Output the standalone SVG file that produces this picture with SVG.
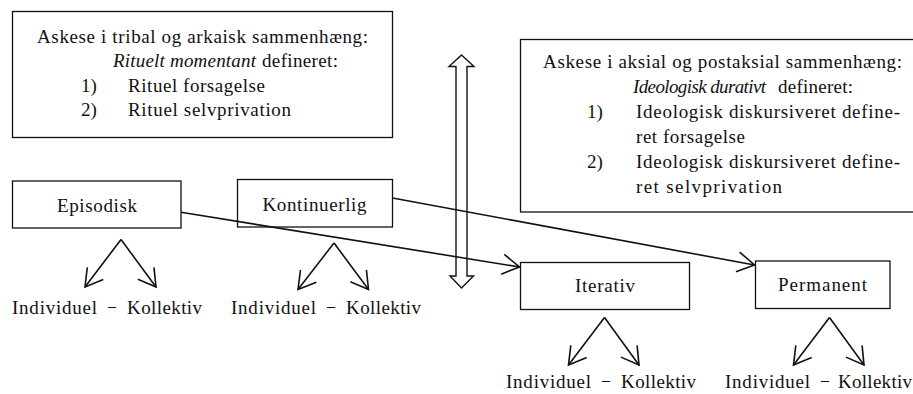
<svg xmlns="http://www.w3.org/2000/svg" width="913" height="394" viewBox="0 0 913 394">
<style>
text{font-family:"Liberation Serif","Times New Roman",serif;font-size:19px;fill:#111}
.it{font-style:italic}
.box{fill:#fff;stroke:#111;stroke-width:1.3}
.ln{fill:none;stroke:#111;stroke-width:1.6;marker-end:url(#open)}
.dbl{fill:#fff;stroke:#111;stroke-width:1.4;stroke-linejoin:miter}
</style>
<defs>
<marker id="open" markerUnits="userSpaceOnUse" markerWidth="24" markerHeight="24" viewBox="-20 -12 24 24" refX="0" refY="0" orient="auto">
<path d="M-17,-10 L0,0 L-17,10" fill="none" stroke="#111" stroke-width="1.6" stroke-linejoin="miter"/>
</marker>
</defs>
<rect width="913" height="394" fill="#fff"/>

<g id="tribal">
<rect class="box" x="12.5" y="11.5" width="380" height="126"/>
<text x="37" y="43" textLength="331" lengthAdjust="spacing">Askese i tribal og arkaisk sammenhæng:</text>
<text class="it" x="113" y="67" textLength="143" lengthAdjust="spacing">Rituelt momentant</text>
<text x="262" y="67" textLength="76" lengthAdjust="spacing">defineret:</text>
<text x="81" y="91.5">1)</text>
<text x="128" y="91.5" textLength="137" lengthAdjust="spacing">Rituel forsagelse</text>
<text x="81" y="116">2)</text>
<text x="128" y="116" textLength="163" lengthAdjust="spacing">Rituel selvprivation</text>
</g>

<g id="aksial">
<rect class="box" x="520.5" y="39.5" width="400" height="172.5"/>
<text x="543" y="68" textLength="359" lengthAdjust="spacing">Askese i aksial og postaksial sammenhæng:</text>
<text class="it" x="633" y="93" textLength="133" lengthAdjust="spacing">Ideologisk durativt</text>
<text x="778" y="93" textLength="75" lengthAdjust="spacing">defineret:</text>
<text x="587" y="118">1)</text>
<text x="636" y="118" textLength="264" lengthAdjust="spacing">Ideologisk diskursiveret define-</text>
<text x="636" y="143" textLength="109" lengthAdjust="spacing">ret forsagelse</text>
<text x="587" y="168">2)</text>
<text x="636" y="168" textLength="264" lengthAdjust="spacing">Ideologisk diskursiveret define-</text>
<text x="636" y="193" textLength="146" lengthAdjust="spacing">ret selvprivation</text>
</g>

<g id="divider">
<path class="dbl" d="M461.5,55 L474,66.5 L467,66.5 L467,276 L473.5,276 L461.5,288 L450,276 L456,276 L456,66.5 L449,66.5 Z"/>
</g>

<g id="episodisk">
<rect class="box" x="12.5" y="181" width="168.5" height="47"/>
<text x="57" y="211.5" textLength="80" lengthAdjust="spacing">Episodisk</text>
</g>
<g id="kontinuerlig">
<rect class="box" x="237.5" y="179.5" width="155" height="47.5"/>
<text x="262.5" y="210.5" textLength="104" lengthAdjust="spacing">Kontinuerlig</text>
</g>
<g id="iterativ">
<rect class="box" x="520.5" y="262.5" width="169" height="47"/>
<text x="575" y="292" textLength="60" lengthAdjust="spacing">Iterativ</text>
</g>
<g id="permanent">
<rect class="box" x="755.5" y="261" width="134.5" height="47.5"/>
<text x="778" y="291" textLength="89" lengthAdjust="spacing">Permanent</text>
</g>

<g id="connectors">
<line class="ln" x1="181" y1="212.3" x2="519.5" y2="267"/>
<line class="ln" x1="392.5" y1="198" x2="754.5" y2="265"/>
<line class="ln" x1="121" y1="239.5" x2="85" y2="287"/>
<line class="ln" x1="121" y1="239.5" x2="156" y2="287"/>
<line class="ln" x1="334" y1="243" x2="298" y2="289.5"/>
<line class="ln" x1="334" y1="243" x2="368.5" y2="289.5"/>
<line class="ln" x1="604.5" y1="317.5" x2="568.5" y2="365"/>
<line class="ln" x1="604.5" y1="317.5" x2="639" y2="365"/>
<line class="ln" x1="829.5" y1="317.5" x2="793.5" y2="365"/>
<line class="ln" x1="829.5" y1="317.5" x2="864" y2="365"/>
</g>

<g id="labels">
<text x="12" y="313.5" textLength="85" lengthAdjust="spacing">Individuel</text>
<text x="107" y="313.5" textLength="10" lengthAdjust="spacingAndGlyphs">−</text>
<text x="127" y="313.5" textLength="75" lengthAdjust="spacing">Kollektiv</text>

<text x="231" y="313.5" textLength="85" lengthAdjust="spacing">Individuel</text>
<text x="326" y="313.5" textLength="10" lengthAdjust="spacingAndGlyphs">−</text>
<text x="346" y="313.5" textLength="75" lengthAdjust="spacing">Kollektiv</text>

<text x="506" y="387.5" textLength="85" lengthAdjust="spacing">Individuel</text>
<text x="601" y="387.5" textLength="10" lengthAdjust="spacingAndGlyphs">−</text>
<text x="621" y="387.5" textLength="75" lengthAdjust="spacing">Kollektiv</text>

<text x="725" y="387.5" textLength="85" lengthAdjust="spacing">Individuel</text>
<text x="820" y="387.5" textLength="10" lengthAdjust="spacingAndGlyphs">−</text>
<text x="838" y="387.5" textLength="74" lengthAdjust="spacing">Kollektiv</text>
</g>
</svg>
